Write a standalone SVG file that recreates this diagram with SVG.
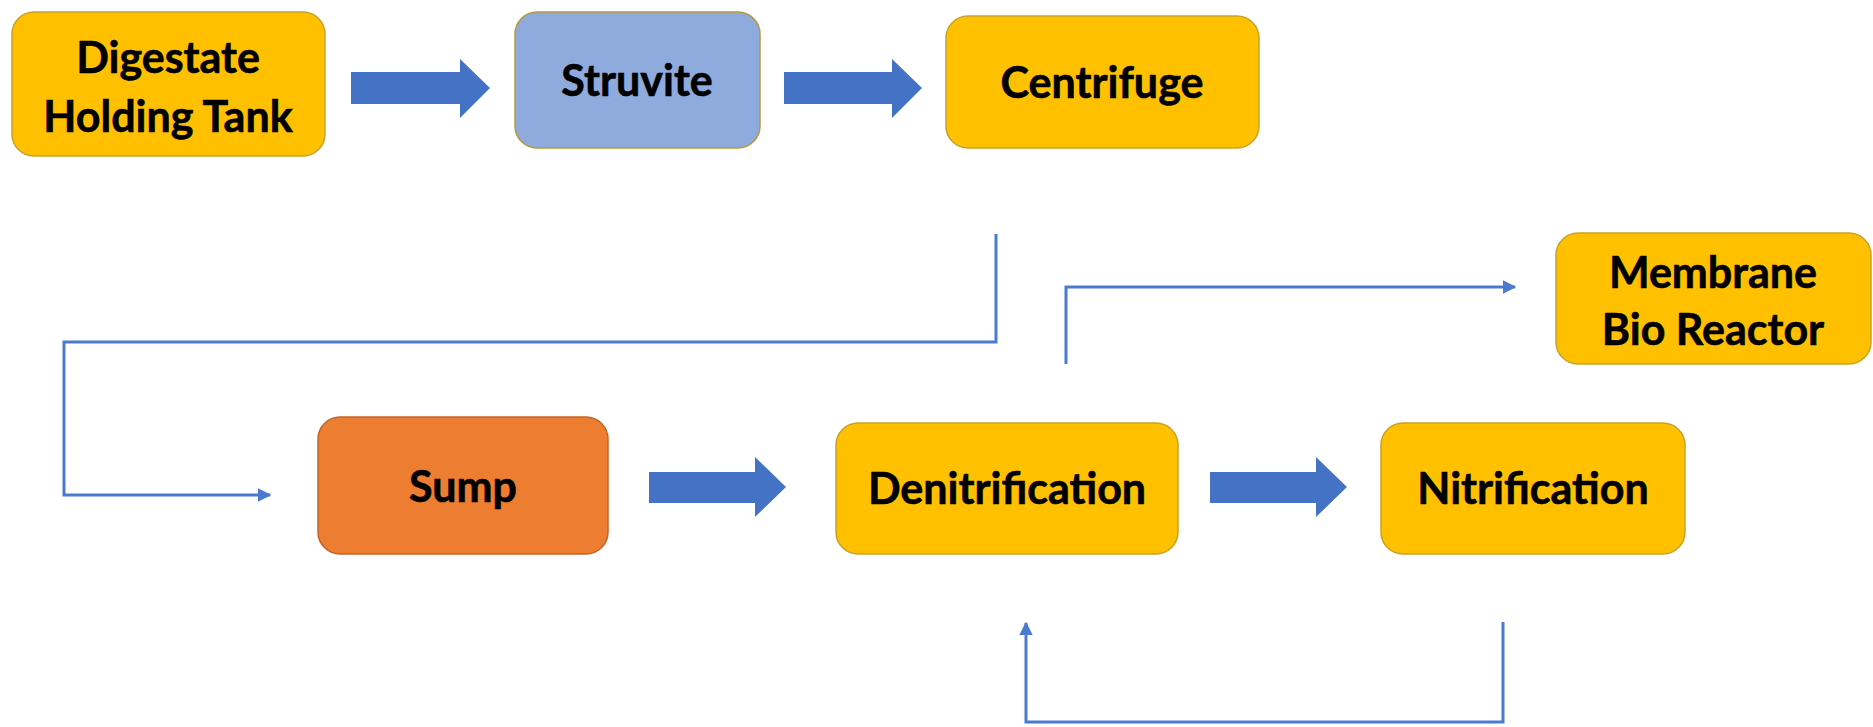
<svg xmlns="http://www.w3.org/2000/svg" width="1873" height="727" viewBox="0 0 1873 727">
<defs>
<style>
.box{stroke-width:1.5}
.y{fill:#FFC000;stroke:#C9A227}
.b{fill:#8FAADC;stroke:#B59A3A}
.o{fill:#ED7D31;stroke:#C0642A}
.t{font-family:Lato,"Open Sans","Liberation Sans",sans-serif;font-weight:bold;font-size:43px;fill:#000;text-anchor:middle;stroke:#000;stroke-width:0.6}
.blk{fill:#4472C4}
.ln{fill:none;stroke:#4A7BD0;stroke-width:3}
</style>
<marker id="ah" viewBox="0 0 10 10" refX="9" refY="5" markerWidth="4.5" markerHeight="4.5" orient="auto" markerUnits="strokeWidth">
<path d="M0,0 L10,5 L0,10 z" fill="#4A7BD0"/>
</marker>
</defs>
<rect width="1873" height="727" fill="#fff"/>
<g id="n-digestate"><rect class="box y" x="12" y="12" width="313" height="144" rx="22"/><text class="t" x="168" y="73">Digestate</text><text class="t" x="168" y="132">Holding Tank</text></g>
<g id="n-struvite"><rect class="box b" x="515" y="12" width="245" height="136" rx="22"/><text class="t" x="637" y="96">Struvite</text></g>
<g id="n-centrifuge"><rect class="box y" x="946" y="16" width="313" height="132" rx="22"/><text class="t" x="1102" y="98">Centrifuge</text></g>
<g id="n-mbr"><rect class="box y" x="1556" y="233" width="315" height="131" rx="22"/><text class="t" x="1713" y="288">Membrane</text><text class="t" x="1713" y="345">Bio Reactor</text></g>
<g id="n-sump"><rect class="box o" x="318" y="417" width="290" height="137" rx="22"/><text class="t" x="463" y="502">Sump</text></g>
<g id="n-denit"><rect class="box y" x="836" y="423" width="342" height="131" rx="22"/><text class="t" x="1007" y="504">Denitrification</text></g>
<g id="n-nit"><rect class="box y" x="1381" y="423" width="304" height="131" rx="22"/><text class="t" x="1533" y="504">Nitrification</text></g>
<g id="connectors">
<path class="blk" d="M351,72 H460 V59 L490,88 L460,118 V104 H351 Z"/>
<path class="blk" d="M784,72 H892 V59 L922,88 L892,118 V104 H784 Z"/>
<path class="blk" d="M649,472 H755 V457 L786,487 L755,517 V503 H649 Z"/>
<path class="blk" d="M1210,472 H1316 V457 L1347,487 L1316,517 V503 H1210 Z"/>
<path class="ln" d="M996,234 V342 H64 V495 H270" marker-end="url(#ah)"/>
<path class="ln" d="M1066,364 V287 H1515" marker-end="url(#ah)"/>
<path class="ln" d="M1503,622 V722 H1026 V623" marker-end="url(#ah)"/>
</g>
</svg>
